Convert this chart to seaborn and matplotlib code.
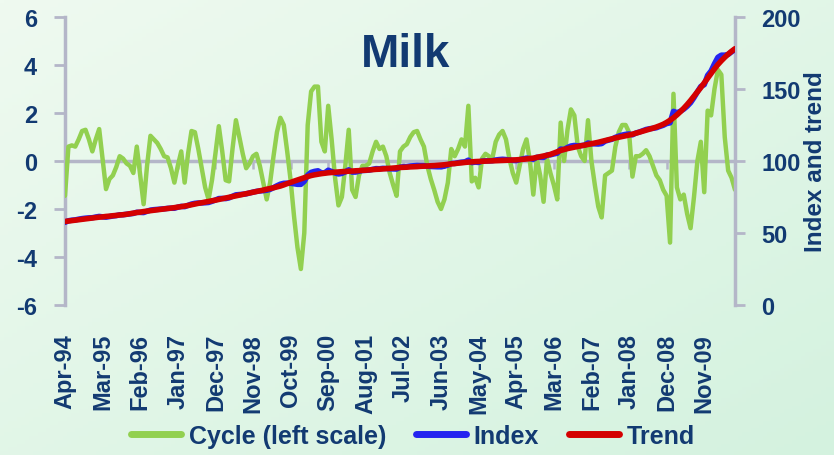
import numpy as np
import pandas as pd
import matplotlib
matplotlib.use("Agg")
import matplotlib.pyplot as plt
import seaborn as sns

# monthly observations, Apr-94 onwards
cycle = [
    -1.45, 0.6, 0.65, 0.6, 0.9, 1.25, 1.3, 0.9, 0.4, 0.9, 1.33, 0.1,
    -1.17, -0.75, -0.6, -0.25, 0.2, 0.1, -0.1, -0.2, -0.5, 0.6, -0.6, -1.8,
    -0.2, 1.05, 0.9, 0.75, 0.5, 0.2, 0.15, -0.3, -0.9, -0.2, 0.4, -0.9,
    0.3, 1.25, 1.2, 0.5, -0.3, -1.1, -1.6, -0.8, 0.3, 1.45, 0.4, -0.8,
    -0.85, 0.5, 1.7, 1.0, 0.3, -0.3, -0.1, 0.2, 0.3, -0.2, -0.9, -1.6,
    -0.9, 0.2, 1.2, 1.8, 1.5, 0.4, -0.8, -2.3, -3.6, -4.5, -3.0, 1.5,
    2.9, 3.1, 3.1, 0.8, 0.4, 2.3, 0.9, -0.7, -1.85, -1.5, -0.2, 1.3,
    -1.2, -1.5, -0.6, -0.2, -0.2, -0.1, 0.4, 0.8, 0.5, 0.6, 0.2, -0.5,
    -1.0, -1.45, 0.4, 0.6, 0.7, 1.0, 1.2, 1.25, 0.9, 0.6, -0.2, -0.75,
    -1.2, -1.7, -2.0, -1.6, -0.9, 0.5, 0.2, 0.5, 0.9, 0.6, 2.3, -0.85,
    -0.7, -1.1, 0.1, 0.3, 0.2, 0.1, 0.8, 1.1, 1.25, 0.9, 0.1, -0.5,
    -0.9, -0.2, 0.5, 0.9, 0.0, -1.4, 0.1, -0.6, -1.7, 0.1, -0.5, -1.0,
    -1.6, 1.6, 0.0, 1.3, 2.15, 1.9, 0.6, 0.2, 0.0, 1.7, 0.0, -1.0,
    -1.9, -2.35, -0.6, -0.5, -0.4, 0.6, 1.2, 1.5, 1.5, 1.2, -0.65, 0.2,
    0.2, 0.3, 0.45, 0.2, -0.2, -0.6, -0.8, -1.2, -1.45, -3.4, 2.8, -1.1,
    -1.6, -1.4, -2.2, -2.8, -1.5, 0.0, 0.8, -1.3, 2.1, 1.9, 3.0, 3.8,
    3.6, 1.0, -0.4, -0.7, -1.2,
]

index = [
    57.4, 58.5, 58.9, 59.1, 59.6, 60.0, 60.3, 60.5, 60.6, 61.1, 61.5, 61.2,
    61.0, 61.4, 61.8, 62.1, 62.6, 62.7, 63.0, 63.3, 63.6, 64.4, 64.3, 64.2,
    65.1, 65.9, 66.2, 66.4, 66.6, 66.8, 67.1, 67.2, 67.2, 67.9, 68.5, 68.3,
    69.2, 70.1, 70.6, 70.8, 70.9, 71.0, 71.2, 72.0, 72.9, 73.9, 74.0, 73.9,
    74.4, 75.5, 76.5, 76.7, 76.9, 77.2, 77.8, 78.4, 78.9, 79.2, 79.4, 79.7,
    80.3, 81.5, 82.8, 83.9, 84.5, 84.6, 84.5, 84.2, 83.8, 83.8, 85.9, 90.2,
    92.1, 92.8, 93.2, 91.8, 91.8, 93.6, 92.7, 91.7, 91.0, 91.4, 92.5, 93.9,
    92.3, 92.3, 92.9, 93.4, 93.5, 93.7, 94.2, 94.7, 94.6, 94.9, 94.8, 94.6,
    94.5, 94.4, 95.7, 96.0, 96.1, 96.5, 96.7, 96.9, 96.8, 96.8, 96.4, 96.2,
    96.1, 96.0, 96.0, 96.4, 97.2, 98.3, 98.3, 98.8, 99.2, 99.4, 100.6, 98.9,
    99.2, 99.0, 99.9, 100.1, 100.1, 100.2, 100.7, 101.0, 101.2, 101.0, 100.7, 100.4,
    100.3, 100.9, 101.5, 102.0, 101.7, 101.2, 102.6, 102.6, 102.5, 104.1, 104.3, 104.9,
    105.4, 108.3, 108.0, 109.4, 110.4, 110.8, 110.5, 110.7, 111.0, 112.5, 112.0, 111.9,
    111.8, 112.1, 113.8, 114.5, 115.1, 116.4, 117.3, 118.0, 118.5, 118.8, 118.2, 119.4,
    120.1, 121.0, 121.9, 122.4, 122.7, 123.1, 124.0, 124.8, 126.0, 126.5, 134.5, 133.5,
    134.5, 136.0, 138.0, 140.5, 144.0, 148.0, 151.8, 153.0, 159.5, 162.5, 167.5, 172.0,
    173.5, 173.5, 174.0, 175.8, 177.5,
]

trend = [
    58.0, 58.3, 58.6, 58.9, 59.2, 59.5, 59.8, 60.1, 60.4, 60.7, 61.0, 61.2,
    61.5, 61.7, 62.0, 62.2, 62.5, 62.7, 63.0, 63.4, 63.8, 64.2, 64.5, 64.9,
    65.2, 65.5, 65.8, 66.1, 66.4, 66.7, 67.0, 67.3, 67.6, 68.0, 68.3, 68.7,
    69.1, 69.6, 70.1, 70.6, 71.0, 71.5, 71.9, 72.4, 72.8, 73.3, 73.8, 74.3,
    74.8, 75.3, 75.8, 76.3, 76.8, 77.3, 77.8, 78.3, 78.8, 79.3, 79.8, 80.4,
    80.9, 81.4, 82.0, 82.6, 83.4, 84.3, 85.1, 86.0, 86.8, 87.6, 88.4, 89.2,
    89.9, 90.4, 90.8, 91.2, 91.5, 91.8, 92.0, 92.2, 92.4, 92.6, 92.7, 92.9,
    93.0, 93.2, 93.3, 93.5, 93.6, 93.8, 94.0, 94.2, 94.3, 94.5, 94.7, 94.9,
    95.1, 95.3, 95.5, 95.6, 95.7, 95.9, 96.0, 96.1, 96.3, 96.4, 96.5, 96.7,
    96.8, 97.0, 97.2, 97.4, 97.7, 98.0, 98.2, 98.5, 98.7, 99.0, 99.2, 99.4,
    99.6, 99.7, 99.8, 99.9, 100.0, 100.1, 100.2, 100.3, 100.4, 100.5, 100.6, 100.7,
    100.8, 101.0, 101.2, 101.4, 101.7, 102.0, 102.5, 103.0, 103.5, 104.0, 104.6, 105.5,
    106.4, 107.3, 108.0, 108.6, 109.1, 109.6, 110.1, 110.6, 111.0, 111.5, 112.0, 112.5,
    113.0, 113.6, 114.2, 114.8, 115.4, 116.0, 116.5, 117.0, 117.5, 118.0, 118.6, 119.3,
    120.0, 120.7, 121.4, 122.1, 122.8, 123.6, 124.5, 125.5, 126.8, 128.3, 130.0, 132.0,
    134.2, 136.6, 139.2, 142.0, 145.0, 148.0, 151.0, 154.2, 157.5, 160.8, 164.0, 167.0,
    169.6, 172.0, 174.2, 176.2, 178.0,
]

months = pd.date_range("1994-04-01", periods=len(cycle), freq="MS").strftime("%b-%y").tolist()
label_step = 11

navy = "#123a72"
grey = "#b4b6c8"

sns.set_theme(style="white")
plt.rcParams["font.family"] = ["Liberation Sans", "DejaVu Sans"]
plt.rcParams["font.weight"] = "bold"
plt.rcParams["axes.unicode_minus"] = False

fig = plt.figure(figsize=(8.34, 4.56), dpi=100)

# light green gradient background
bg = fig.add_axes([0, 0, 1, 1], zorder=-1)
gx, gy = np.meshgrid(np.linspace(0, 1, 200), np.linspace(0, 1, 120))
t = (gx + gy) / 2
c0 = np.array([239, 250, 240]) / 255
c1 = np.array([212, 242, 223]) / 255
bg.imshow(c0 + t[..., None] * (c1 - c0), aspect="auto", extent=[0, 1, 0, 1], origin="upper")
bg.axis("off")

ax = fig.add_axes([65 / 834, 1 - 306 / 456, 670 / 834, 288 / 456])
ax.patch.set_alpha(0)
x = np.arange(len(cycle))

ax.axhline(0, color=grey, lw=2.5, zorder=1)
tick_pos = x[::label_step]
ax.vlines(tick_pos, -0.33, 0, color=grey, lw=1.8, zorder=1)

sns.lineplot(x=x, y=cycle, ax=ax, color="#92d050", linewidth=3.2, zorder=3)
ax.set_xlim(0, len(cycle) - 1)
ax.set_ylim(-6, 6)
ax.set_yticks(range(-6, 7, 2))

ax2 = ax.twinx()
ax2.patch.set_alpha(0)
sns.lineplot(x=x, y=index, ax=ax2, color="#2424f0", linewidth=4.0, zorder=3)
sns.lineplot(x=x, y=trend, ax=ax2, color="#d40000", linewidth=4.0, zorder=4)
ax2.set_ylim(0, 200)
ax2.set_yticks(range(0, 201, 50))

for a in (ax, ax2):
    for s in ("top", "bottom"):
        a.spines[s].set_visible(False)
    a.spines["left"].set_visible(a is ax)
    a.spines["right"].set_visible(a is ax2)
    for s in ("left", "right"):
        a.spines[s].set_color(grey)
        a.spines[s].set_linewidth(2.5)
    a.set_xlabel("")
    a.set_ylabel("")

ax.set_xticks(tick_pos)
ax.set_xticklabels([months[i] for i in tick_pos], rotation=90, fontsize=17,
                   fontweight="bold", color=navy)
ax.tick_params(axis="x", length=0, pad=20)
ax.tick_params(axis="y", direction="out", length=8, width=2, color=grey, pad=12,
               labelsize=17, labelcolor=navy, left=True)
ax2.tick_params(axis="y", direction="out", length=7, width=2, color=grey, pad=12,
                labelsize=17, labelcolor=navy, right=True)
for lab in ax.get_yticklabels() + ax2.get_yticklabels():
    lab.set_fontweight("bold")

ax2.set_ylabel("Index and trend", fontsize=17.5, fontweight="bold", color=navy)
ax2.yaxis.set_label_coords(1.103, 0.5)

fig.text(406 / 834, 1 - 67 / 456, "Milk", ha="center", va="baseline",
         fontsize=33, fontweight="bold", color=navy)

handles = [ax.get_lines()[-1], ax2.get_lines()[0], ax2.get_lines()[1]]
leg = fig.legend(handles, ["Cycle (left scale)", "Index", "Trend"], loc="center",
                 bbox_to_anchor=(0.495, 0.042), ncol=3, frameon=False,
                 prop={"size": 18, "weight": "bold"}, labelcolor=navy,
                 handlelength=2.0, handletextpad=0.3, columnspacing=1.2)
for h in leg.legend_handles:
    h.set_linewidth(5)

fig.savefig("out.png", dpi=100)
